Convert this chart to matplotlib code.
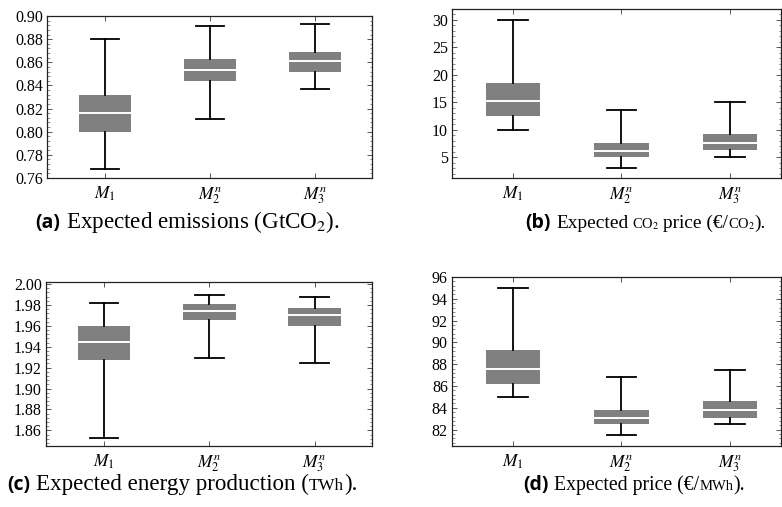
import matplotlib
matplotlib.use("Agg")
import matplotlib.pyplot as plt
from matplotlib.ticker import MultipleLocator, AutoMinorLocator, FormatStrFormatter

plt.rcParams['mathtext.fontset'] = 'stix'
plt.rcParams['font.family'] = ['Liberation Serif', 'DejaVu Serif']

models = [r'$M_1$', r'$M_2^n$', r'$M_3^n$']

# (a) Expected emissions (GtCO2)
em_low = [0.768, 0.811, 0.837]
em_q1 = [0.800, 0.844, 0.852]
em_med = [0.816, 0.853, 0.861]
em_q3 = [0.832, 0.863, 0.869]
em_high = [0.880, 0.891, 0.893]

# (b) Expected CO2 price
co2_low = [10.0, 3.0, 5.0]
co2_q1 = [12.5, 5.0, 6.3]
co2_med = [15.3, 6.2, 7.6]
co2_q3 = [18.6, 7.6, 9.3]
co2_high = [30.0, 13.6, 15.0]

# (c) Expected energy production (TWh)
en_low = [1.853, 1.929, 1.924]
en_q1 = [1.927, 1.966, 1.960]
en_med = [1.945, 1.974, 1.970]
en_q3 = [1.960, 1.981, 1.977]
en_high = [1.982, 1.990, 1.988]

# (d) Expected price (EUR/MWh)
pr_low = [85.0, 81.5, 82.5]
pr_q1 = [86.2, 82.5, 83.1]
pr_med = [87.6, 83.1, 83.8]
pr_q3 = [89.3, 83.8, 84.6]
pr_high = [95.0, 86.8, 87.5]

W, H = 782, 507
fig = plt.figure(figsize=(W / 100, H / 100), dpi=100)


def rect(l, r, t, b):
    return [l / W, 1 - b / H, (r - l) / W, (b - t) / H]


def panel(pos, lows, q1s, meds, q3s, highs, ylim, major, fmt, xlim):
    ax = fig.add_axes(pos)
    stats = []
    for lo, a, m, b, hi, lab in zip(lows, q1s, meds, q3s, highs, models):
        stats.append(dict(whislo=lo, q1=a, med=m, q3=b, whishi=hi, label=lab, fliers=[]))
    ax.bxp(stats, positions=[1, 2, 3], widths=0.5, capwidths=0.27,
           patch_artist=True, showfliers=False,
           boxprops=dict(facecolor='#808080', edgecolor='none', linewidth=0),
           medianprops=dict(color='white', linewidth=1.4),
           whiskerprops=dict(color='black', linewidth=1.3),
           capprops=dict(color='black', linewidth=1.3))
    ax.set_xlim(*xlim)
    ax.set_ylim(*ylim)
    ax.yaxis.set_major_locator(MultipleLocator(major))
    ax.yaxis.set_minor_locator(AutoMinorLocator(5))
    ax.yaxis.set_major_formatter(FormatStrFormatter(fmt))
    ax.tick_params(axis='both', which='major', direction='in', length=3.5, width=0.7,
                   color='#555555', top=True, right=True, labelsize=11.5, pad=3)
    ax.tick_params(axis='y', which='minor', direction='in', length=1.8, width=0.6,
                   color='#777777', left=True, right=True)
    ax.tick_params(axis='x', labelsize=12.5, pad=5)
    for s in ax.spines.values():
        s.set_color('#222222')
        s.set_linewidth(0.9)
    return ax


xl_left = (0.448, 3.545)
xl_right = (0.438, 3.47)

panel(rect(47, 372, 16, 178), em_low, em_q1, em_med, em_q3, em_high,
      (0.76, 0.90), 0.02, '%.2f', xl_left)
panel(rect(452, 781, 9, 178), co2_low, co2_q1, co2_med, co2_q3, co2_high,
      (1.2, 32.0), 5, '%d', xl_right)
panel(rect(46, 372, 282, 446), en_low, en_q1, en_med, en_q3, en_high,
      (1.845, 2.002), 0.02, '%.2f', xl_left)
panel(rect(452, 781, 277, 446), pr_low, pr_q1, pr_med, pr_q3, pr_high,
      (80.5, 96.0), 2, '%d', xl_right)

BIG = 15.5
SMALL = 11.5
BOLD = dict(fontweight='bold', family=['Open Sans', 'DejaVu Sans'])
fig.canvas.draw()
R = fig.canvas.get_renderer()


def draw_pieces(xpx, ypx, pieces, scale):
    arts = []
    x = xpx
    for text, size, kw, gap in pieces:
        t = fig.text(x / W, 1 - ypx / H, text, fontsize=size * scale, va='baseline',
                     ha='left', **kw)
        arts.append(t)
        bb = t.get_window_extent(renderer=R)
        x = bb.x1 + gap * scale
    return arts, x


def caption(xpx, ypx, tag, pieces, right_px):
    t = fig.text(xpx / W, 1 - ypx / H, tag, fontsize=14, va='baseline', ha='left', **BOLD)
    x0 = t.get_window_extent(renderer=R).x1 + 6
    arts, x1 = draw_pieces(x0, ypx, pieces, 1.0)
    s = (right_px - x0) / (x1 - x0)
    s = min(max(s, 0.9), 1.07)
    for a in arts:
        a.remove()
    draw_pieces(x0, ypx, pieces, s)


caption(35, 228, '(a)', [('Expected emissions (GtCO$_2$).', BIG, {}, 0)], 345)
caption(525, 228, '(b)', [('Expected', BIG, {}, 4),
                          ('CO$_2$', SMALL, {}, 4),
                          ('price (€/', BIG, {}, 0),
                          ('CO$_2$', SMALL, {}, 0),
                          (').', BIG, {}, 0)], 752)
caption(7, 490, '(c)', [('Expected energy production (', BIG, {}, 0),
                        ('TWh', SMALL, {}, 0),
                        (').', BIG, {}, 0)], 378)
caption(523, 490, '(d)', [('Expected price (€/', BIG, {}, 0),
                          ('MWh', SMALL, {}, 0),
                          (').', BIG, {}, 0)], 745)

fig.savefig('out.png', dpi=100)
